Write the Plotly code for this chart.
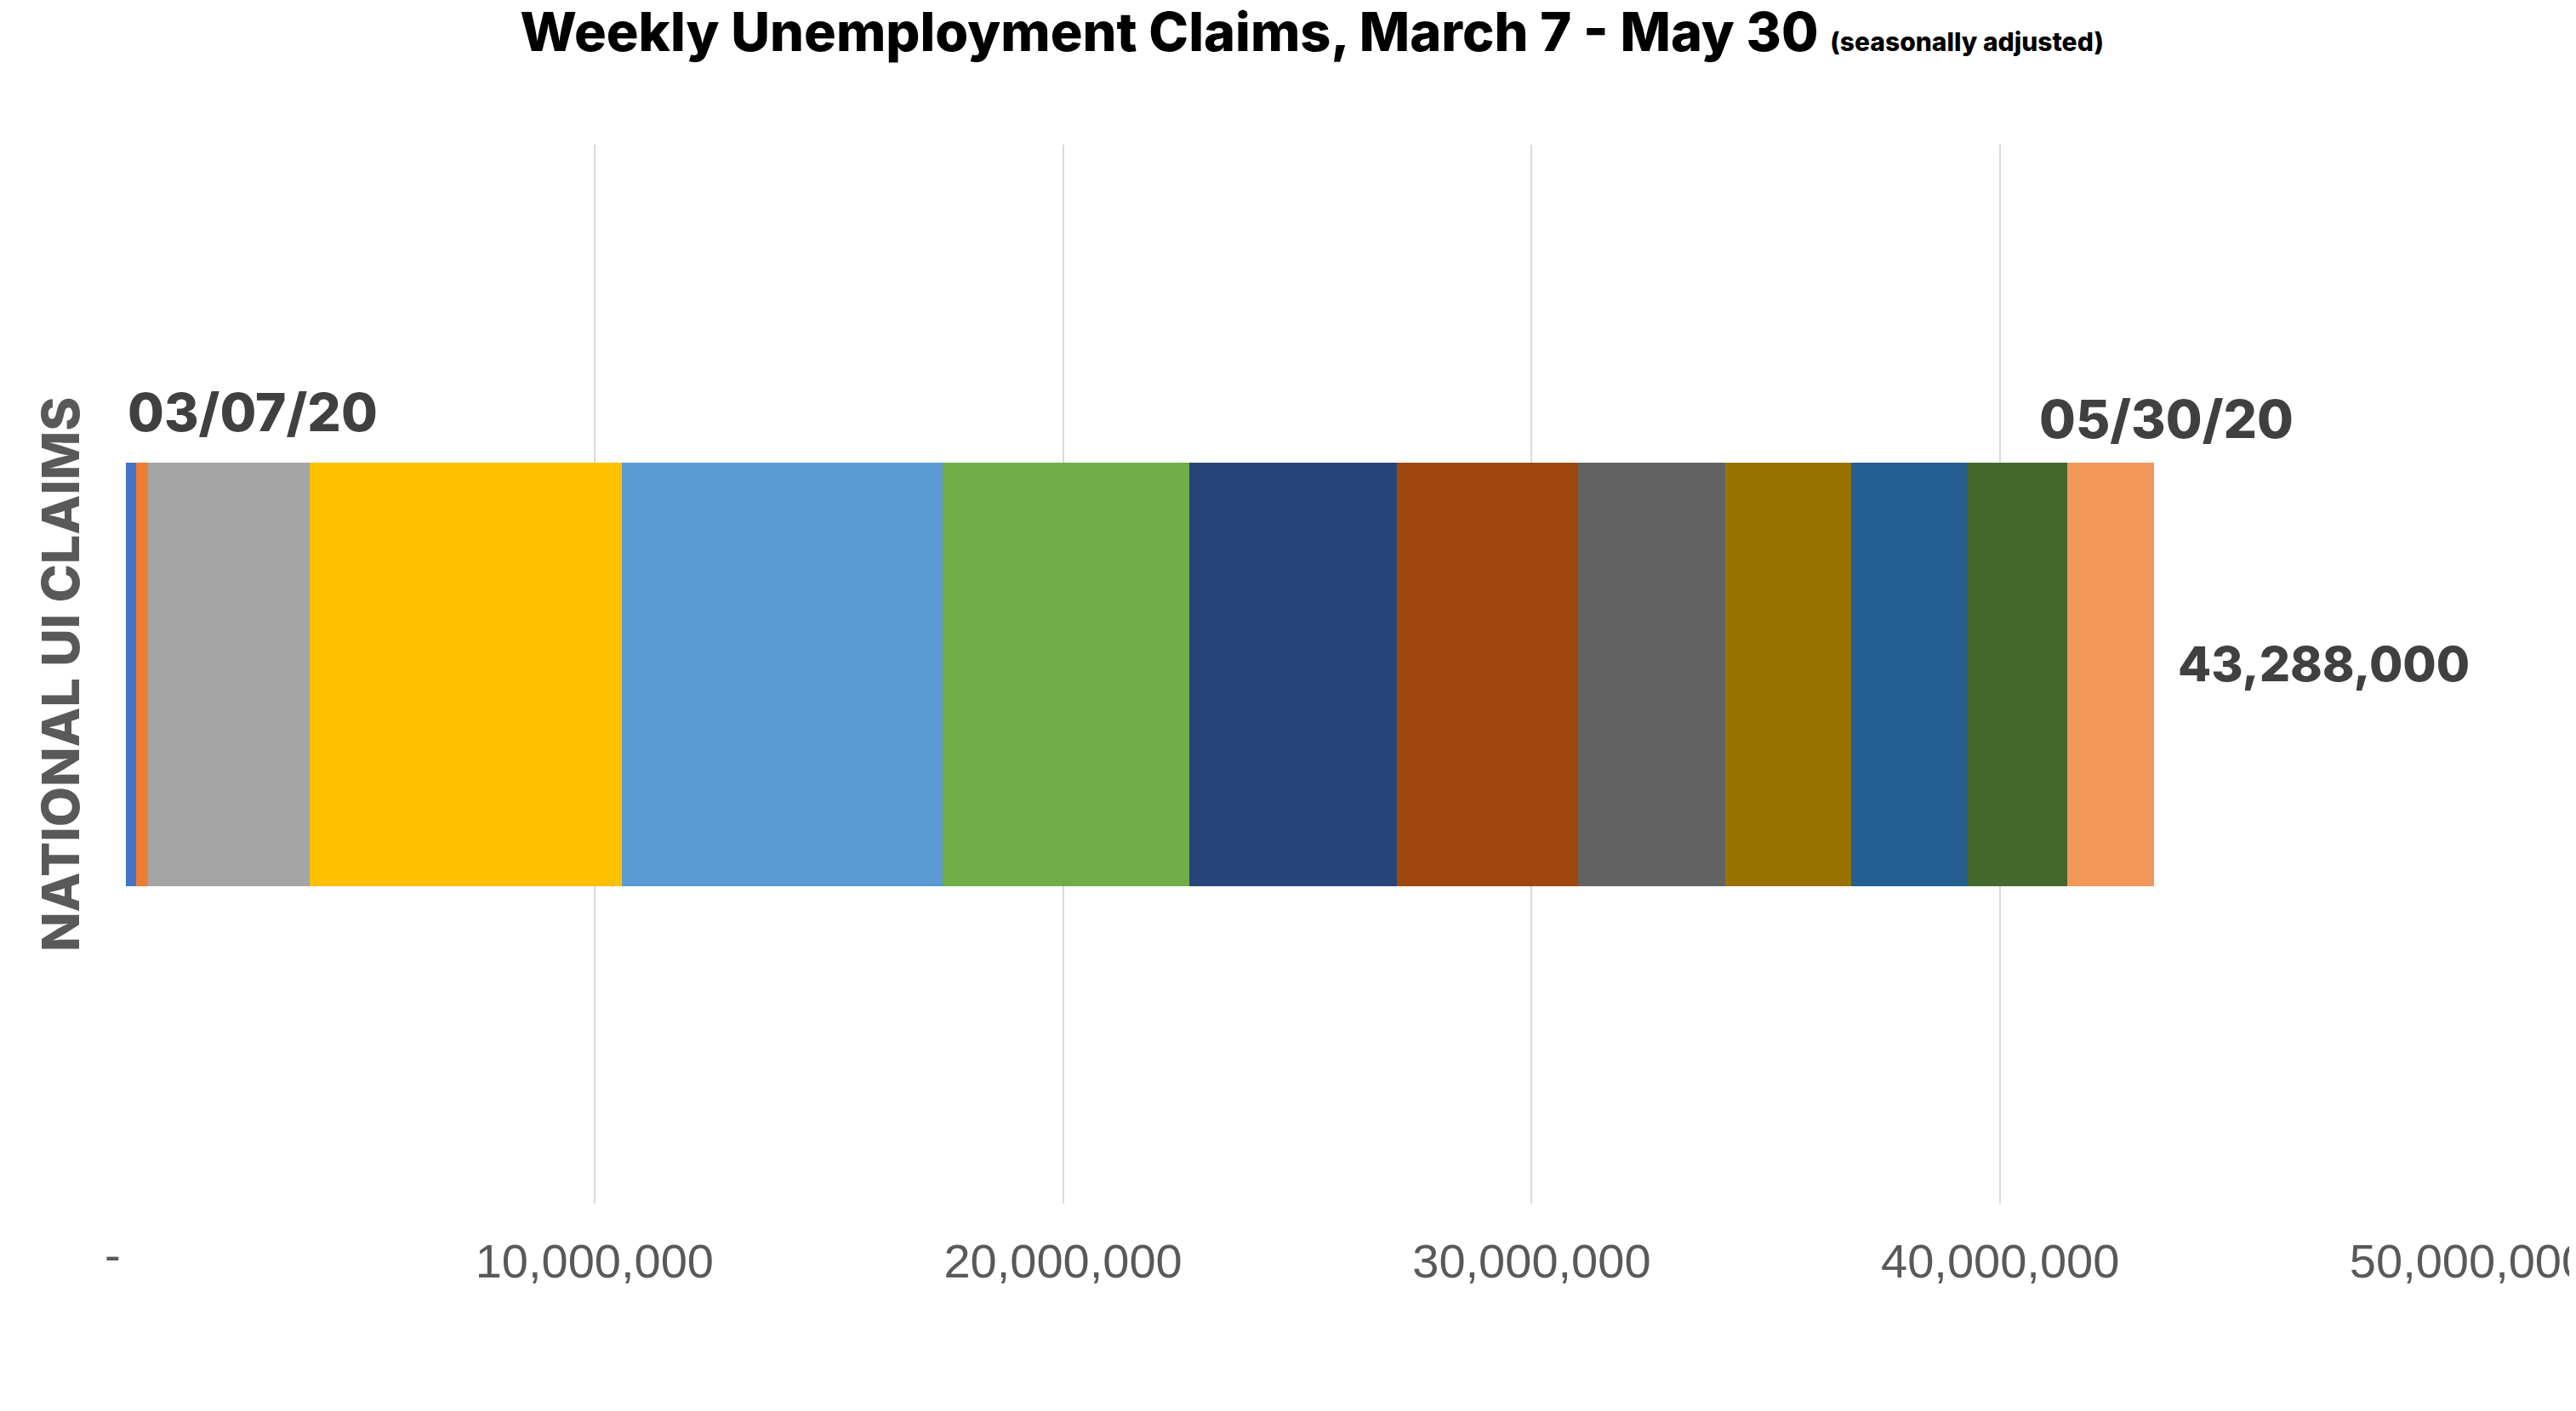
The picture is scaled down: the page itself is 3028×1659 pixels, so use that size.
import plotly.graph_objects as go

weeks = ["03/07/20", "03/14/20", "03/21/20", "03/28/20", "04/04/20", "04/11/20", "04/18/20",
         "04/25/20", "05/02/20", "05/09/20", "05/16/20", "05/23/20", "05/30/20"]
claims = [211000, 268000, 3450000, 6648000, 6855000, 5255000, 4430000,
          3870000, 3150000, 2690000, 2470000, 2130000, 1861000]
colors = ["#4472C4", "#ED7D31", "#A5A5A5", "#FFC000", "#5B9BD5", "#70AD47", "#264478",
          "#9E480E", "#636363", "#997300", "#255E91", "#43682B", "#F1975A"]
category = ["NATIONAL UI CLAIMS"]
tick_vals = [0, 10000000, 20000000, 30000000, 40000000, 50000000]
tick_text = ["", "10,000,000", "20,000,000", "30,000,000", "40,000,000", "50,000,000"]

total = sum(claims)
FONT = "Inter"

fig = go.Figure()
for w, v, c in zip(weeks, claims, colors):
    fig.add_trace(go.Bar(y=category, x=[v], orientation="h", name=w,
                         marker=dict(color=c, line=dict(width=0)),
                         hovertemplate=w + ": %{x:,}<extra></extra>"))

fig.update_layout(
    barmode="stack",
    bargap=0.6,
    width=3020, height=1651,
    margin=dict(l=140, r=126, t=162, b=244, autoexpand=False),
    plot_bgcolor="white", paper_bgcolor="white",
    showlegend=False,
    title=dict(
        text="Weekly Unemployment Claims, March 7 - May 30 <span style='font-size:30px'>(seasonally adjusted)</span>",
        x=0.508, xanchor="center", y=0.982, yanchor="middle",
        font=dict(family=FONT, size=63, color="#000000", weight=800)),
    xaxis=dict(range=[0, 50000000], tickvals=tick_vals, ticktext=tick_text,
               showgrid=True, gridcolor="#D9D9D9", gridwidth=2,
               zeroline=False, showline=False, ticks="",
               automargin=False, ticklabeloverflow="allow",
               ticklabelstandoff=30,
               tickfont=dict(family="Liberation Sans", size=56, color="#595959")),
    yaxis=dict(showticklabels=False, showgrid=False, zeroline=False, showline=False,
               automargin=False, range=[-0.5, 0.5]),
)

# zero tick shown as accounting dash
fig.add_annotation(x=0, y=0, xref="x", yref="paper", text="-", showarrow=False,
                   xanchor="center", yanchor="middle", xshift=-16, yshift=-60,
                   font=dict(family="Liberation Sans", size=56, color="#595959"))

fig.add_annotation(x=0, y=0.747, xref="x", yref="paper", text=weeks[0],
                   showarrow=False, xanchor="left", yanchor="middle",
                   font=dict(family=FONT, size=62, color="#404040", weight=800))
fig.add_annotation(x=total, y=0.741, xref="x", yref="paper", text=weeks[-1],
                   showarrow=False, xanchor="center", yanchor="middle", xshift=14,
                   font=dict(family=FONT, size=62, color="#404040", weight=800))
fig.add_annotation(x=total, y=category[0], xref="x", yref="y", text="{:,}".format(total),
                   showarrow=False, xanchor="left", yanchor="middle", xshift=26, yshift=12,
                   font=dict(family=FONT, size=57, color="#404040", weight=800))
fig.add_annotation(x=-0.0281, y=0.5, xref="paper", yref="paper", text=category[0],
                   showarrow=False, textangle=-90, xanchor="center", yanchor="middle",
                   font=dict(family=FONT, size=61, color="#595959", weight=800))

fig.write_html("out.html")
